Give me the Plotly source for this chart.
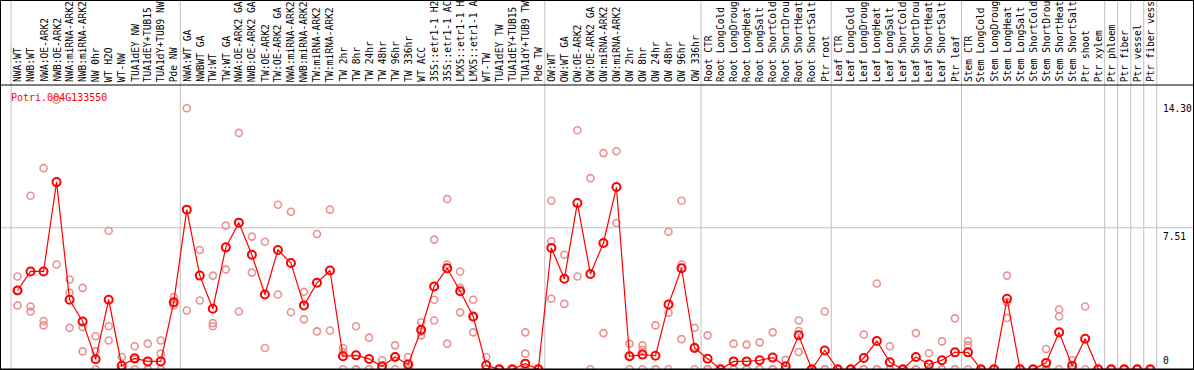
import plotly.graph_objects as go

labels = [
    "NWA:WT", "NWB:WT", "NWA:OE-ARK2", "NWB:OE-ARK2", "NWA:miRNA-ARK2", "NWB:miRNA-ARK2",
    "NW 0hr", "WT H2O", "WT-NW", "TUA1dEY NW", "TUA1dEY+TUB15", "TUA1dY+TUB9 NW", "Pde NW",
    "NWA:WT GA", "NWBWT GA", "TW:WT", "TW:WT GA", "NWA:OE-ARK2 GA", "NWB:OE-ARK2 GA",
    "TW:OE-ARK2", "TW:OE-ARK2 GA", "NWA:miRNA-ARK2", "NWB:miRNA-ARK2", "TW:miRNA-ARK2",
    "TW:miRNA-ARK2", "TW 2hr", "TW 8hr", "TW 24hr", "TW 48hr", "TW 96hr", "TW 336hr",
    "WT ACC", "35S::etr1-1 H2", "35S::etr1-1 AC", "LMX5::etr1-1 H", "LMX5::etr1-1 A",
    "WT-TW", "TUA1dEY TW", "TUA1dEY+TUB15", "TUA1dY+TUB9 TW", "Pde TW",
    "OW:WT", "OW:WT GA", "OW:OE-ARK2", "OW:OE-ARK2 GA", "OW:miRNA-ARK2", "OW:miRNA-ARK2",
    "OW 2hr", "OW 8hr", "OW 24hr", "OW 48hr", "OW 96hr", "OW 336hr",
    "Root CTR", "Root LongCold", "Root LongDroug", "Root LongHeat", "Root LongSalt",
    "Root ShortCold", "Root ShortDrou", "Root ShortHeat", "Root ShortSalt", "Ptr root",
    "Leaf CTR", "Leaf LongCold", "Leaf LongDroug", "Leaf LongHeat", "Leaf LongSalt",
    "Leaf ShortCold", "Leaf ShortDrou", "Leaf ShortHeat", "Leaf ShortSalt", "Ptr leaf",
    "Stem CTR", "Stem LongCold", "Stem LongDroug", "Stem LongHeat", "Stem LongSalt",
    "Stem ShortCold", "Stem ShortDrou", "Stem ShortHeat", "Stem ShortSalt", "Ptr shoot",
    "Ptr xylem", "Ptr phloem", "Ptr fiber", "Ptr vessel", "Ptr fiber vess",
]

mean_values = [
    4.18, 5.19, 5.19, 9.93, 3.69, 2.54, 0.53, 3.69, 0.19, 0.58, 0.42, 0.42, 3.56,
    8.47, 4.97, 3.21, 6.47, 7.78, 6.08, 3.97, 6.33, 5.64, 3.39, 4.59, 5.24,
    0.69, 0.74, 0.55, 0.16, 0.65, 0.26, 2.10, 4.39, 5.36, 4.14, 2.80,
    0.21, 0.0, 0.0, 0.30, 0.0,
    6.44, 4.80, 8.82, 5.06, 6.70, 9.67, 0.69, 0.78, 0.72, 3.44, 5.36, 1.13,
    0.56, 0.0, 0.42, 0.42, 0.48, 0.62, 0.16, 1.80, 0.0, 1.00,
    0.0, 0.0, 0.60, 1.50, 0.37, 0.0, 0.65, 0.26, 0.48, 0.90,
    0.90, 0.0, 0.0, 3.74, 0.0, 0.0, 0.34, 1.96, 0.19, 1.62,
    0.0, 0.0, 0.0, 0.0, 0.0,
]

rep1 = [
    4.92, 9.21, 10.67, 14.30, 4.76, 4.32, 1.75, 7.35, 0.65, 1.22, 1.36, 1.53, 3.83,
    13.85, 6.33, 4.97, 7.62, 12.54, 7.04, 6.77, 8.73, 8.36, 4.11, 7.18, 8.47,
    1.13, 2.28, 1.68, 0.48, 1.27, 0.65, 2.50, 6.88, 9.03, 5.19, 3.69,
    0.65, 0.0, 0.0, 1.96, 0.0,
    8.94, 6.08, 12.68, 10.14, 11.47, 11.57, 1.36, 1.27, 2.33, 7.30, 8.94, 2.20,
    1.80, 0.0, 1.36, 1.31, 1.43, 1.96, 0.50, 2.59, 0.0, 3.07,
    0.0, 0.0, 1.85, 4.55, 1.22, 0.0, 1.92, 0.85, 1.48, 2.70,
    1.50, 0.0, 0.0, 4.97, 0.0, 0.0, 1.08, 3.17, 0.48, 3.33,
    0.0, 0.0, 0.0, 0.0, 0.0,
]

rep2 = [
    4.20, 3.33, 2.56, 5.56, 4.06, 2.24, 0.95, 2.28, 0.0, 0.52, 0.0, 0.83, 3.39,
    3.12, 3.65, 2.45, 5.29, 3.07, 5.13, 1.13, 3.97, 3.03, 2.65, 2.01, 2.06,
    0.92, 0.0, 0.0, 0.0, 0.68, 0.13, 1.80, 3.69, 5.56, 4.32, 2.76,
    0.0, 0.0, 0.0, 0.83, 0.0,
    6.79, 3.47, 4.92, 0.0, 1.92, 7.76, 0.70, 1.04, 0.0, 3.00, 5.56, 1.20,
    0.0, 0.0, 0.0, 0.0, 0.0, 0.0, 0.0, 2.03, 0.0, 0.0,
    0.0, 0.0, 0.0, 0.0, 0.0, 0.0, 0.0, 0.0, 0.0, 0.0,
    1.27, 0.0, 0.0, 3.56, 0.0, 0.0, 0.0, 2.80, 0.0, 0.0,
    0.0, 0.0, 0.0, 0.0, 0.0,
]

rep3 = [
    3.39, 3.07, 2.33, None, 2.20, 0.95, 0.0, 1.53, 0.0, 0.0, 0.0, 0.0, 3.50,
    None, None, 2.28, None, None, None, None, None, None, None, None, None,
    0.0, 0.0, 0.0, 0.0, 0.0, 0.0, 2.00, 2.59, 1.36, 3.02, 1.96,
    0.0, 0.0, 0.0, 0.0, 0.0,
    3.74, None, None, None, None, None, 0.0, 0.0, 0.0, 0.0, 1.60, 0.0,
    0.0, 0.0, 0.0, 0.0, 0.0, 0.0, 0.0, 0.92, 0.0, 0.0,
    0.0, 0.0, 0.0, 0.0, 0.0, 0.0, 0.0, 0.0, 0.0, 0.0,
    0.0, 0.0, 0.0, 2.72, 0.0, 0.0, 0.0, 0.0, 0.0, None,
    0.0, 0.0, 0.0, 0.0, 0.0,
]

group_bounds = [-0.5, 12.5, 40.5, 52.5, 62.5, 72.5, 83.5, 84.5, 85.5, 86.5, 87.5]
y_ticks = [14.30, 7.51, 0]
y_tick_text = ["14.30", "7.51", "0"]
gene_id = "Potri.004G133550"

W, H = 1194, 370
px_per_cat = 13.02
x_left_px = 11.0
x_min = -0.5 - x_left_px / px_per_cat
x_max = x_min + W / px_per_cat
zero_px = 369.3
px_per_unit = 18.85
y_min = -(H - zero_px) / px_per_unit
y_max = zero_px / px_per_unit

def py(pxy):
    return (H - pxy) / H

def px(pxx):
    return pxx / W

xs = list(range(len(labels)))
fig = go.Figure()

rep_color = "rgb(234,145,145)"
for rep in (rep1, rep2, rep3):
    rx = [i for i, v in zip(xs, rep) if v is not None]
    ry = [v for v in rep if v is not None]
    fig.add_trace(go.Scatter(
        x=rx, y=ry, mode="markers",
        marker=dict(symbol="circle-open", size=7, color=rep_color, line=dict(width=1.6, color=rep_color)),
        cliponaxis=False, showlegend=False, hoverinfo="skip"))

fig.add_trace(go.Scatter(
    x=xs, y=mean_values, mode="lines+markers",
    line=dict(color="#ff0000", width=1.2),
    marker=dict(symbol="circle-open", size=8, color="#ff0000", line=dict(width=2, color="#ff0000")),
    cliponaxis=False, showlegend=False))

shapes = []
for b in group_bounds:
    shapes.append(dict(type="line", xref="x", yref="paper", x0=b, x1=b, y0=0, y1=1,
                       line=dict(color="#c0c0c0", width=1), layer="below"))
shapes.append(dict(type="line", xref="paper", yref="y", x0=0, x1=1, y0=7.51, y1=7.51,
                   line=dict(color="#c0c0c0", width=1), layer="below"))
shapes.append(dict(type="line", xref="paper", yref="paper", x0=0, x1=1, y0=py(85), y1=py(85),
                   line=dict(color="black", width=1)))
shapes.append(dict(type="line", xref="paper", yref="y", x0=0, x1=1, y0=0, y1=0,
                   line=dict(color="black", width=1.5)))
shapes.append(dict(type="rect", xref="paper", yref="paper", x0=0, x1=1, y0=0, y1=1,
                   line=dict(color="black", width=2)))

annotations = []
mono = "DejaVu Sans Mono"
for i, lab in enumerate(labels):
    annotations.append(dict(x=i, y=py(84), xref="x", yref="paper", text=lab, textangle=-90,
                            showarrow=False, xanchor="center", yanchor="bottom",
                            font=dict(family=mono, size=9.6, color="black")))
annotations.append(dict(x=px(9), y=py(97), xref="paper", yref="paper", text=gene_id,
                        showarrow=False, xanchor="left", yanchor="middle",
                        font=dict(family=mono, size=10, color="#ff0000")))
for v, t in zip(y_ticks, y_tick_text):
    annotations.append(dict(x=px(1161), y=v, xref="paper", yref="y", text=t,
                            showarrow=False, xanchor="left",
                            yanchor="top" if v > 0 else "bottom",
                            yshift=-1 if v > 0 else 1,
                            font=dict(family=mono, size=9.6, color="black")))

fig.update_layout(
    width=W, height=H, margin=dict(l=0, r=0, t=0, b=0),
    paper_bgcolor="white", plot_bgcolor="white",
    xaxis=dict(range=[x_min, x_max], visible=False, fixedrange=True),
    yaxis=dict(range=[y_min, y_max], visible=False, fixedrange=True),
    shapes=shapes, annotations=annotations, showlegend=False,
)

fig.write_html(
    "out.html",
    config={"displayModeBar": False},
    post_script="document.body.style.margin='0';document.body.style.overflow='hidden';",
)
